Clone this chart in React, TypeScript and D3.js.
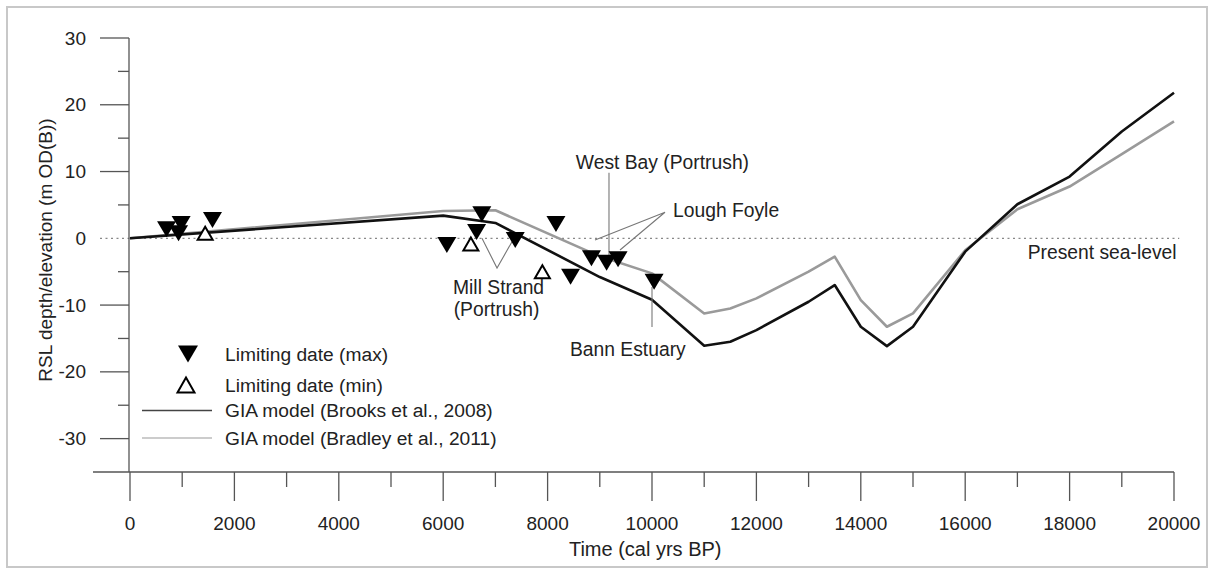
import React from "react";
import * as d3 from "d3";

// ---- Data ----
const brooksX = [0, 6000, 7000, 9000, 10000, 11000, 11500, 12000, 13000, 13500, 14000, 14500, 15000, 16000, 17000, 18000, 19000, 20000];
const brooksY = [0, 3.4, 2.3, -5.8, -9.2, -16.1, -15.5, -13.75, -9.5, -7.0, -13.25, -16.15, -13.25, -2.0, 5.1, 9.25, 16.0, 21.8];
const bradleyX = [0, 6000, 7000, 9000, 10000, 11000, 11500, 12000, 13000, 13500, 14000, 14500, 15000, 16000, 17000, 18000, 19000, 20000];
const bradleyY = [0, 4.1, 4.2, -2.7, -5.25, -11.25, -10.5, -9.0, -5.0, -2.75, -9.25, -13.25, -11.25, -1.8, 4.35, 7.75, 12.6, 17.5];

const maxX = [700, 930, 980, 1580, 6070, 6740, 6640, 7380, 8160, 8440, 8840, 9130, 9350, 10040];
const maxY = [1.35, 0.75, 2.15, 2.75, -1.0, 3.6, 0.95, -0.25, 2.15, -5.75, -3.0, -3.65, -3.15, -6.5];
const minX = [1440, 6530, 7900];
const minY = [0.75, -0.85, -5.0];

const xTicks = [0, 2000, 4000, 6000, 8000, 10000, 12000, 14000, 16000, 18000, 20000];
const xMinorTicks = [1000, 3000, 5000, 7000, 9000, 11000, 13000, 15000, 17000, 19000];
const yTicks = [30, 20, 10, 0, -10, -20, -30];
const yMinorTicks = [25, 15, 5, -5, -15, -25];

const legendLabels = [
  "Limiting date (max)",
  "Limiting date (min)",
  "GIA model (Brooks et al., 2008)",
  "GIA model (Bradley et al., 2011)",
];

const W = 1213;
const H = 570;
const FONT = "'Liberation Sans', Arial, Helvetica, sans-serif";

const x = d3.scaleLinear().domain([0, 20000]).range([130, 1174]);
const y = d3.scaleLinear().domain([-35, 30]).range([472, 38]);

const downTri = (cx: number, cy: number, w = 19, h = 16) =>
  `M${cx - w / 2},${cy - h / 2}L${cx + w / 2},${cy - h / 2}L${cx},${cy + h / 2}Z`;
const upTri = (cx: number, cy: number, w = 15, h = 13) =>
  `M${cx - w / 2},${cy + h / 2}L${cx + w / 2},${cy + h / 2}L${cx},${cy - h / 2}Z`;

export default function App() {
  const line = d3
    .line<[number, number]>()
    .x((d) => x(d[0]))
    .y((d) => y(d[1]));
  const brooks = line(brooksX.map((v, i) => [v, brooksY[i]]) as [number, number][]) || "";
  const bradley = line(bradleyX.map((v, i) => [v, bradleyY[i]]) as [number, number][]) || "";

  const axisColor = "#555";
  const textColor = "#222";
  const annColor = "#777";
  const y0 = y(-35);

  return (
    <div style={{ position: "absolute", left: 0, top: 0 }}>
      <svg width={W} height={H} style={{ display: "block", fontFamily: FONT }}>
        <rect x={0} y={0} width={W} height={H} fill="#fff" />
        <rect x={7} y={7} width={1200} height={560} fill="none" stroke="#c8c8c8" strokeWidth={2} />

        {/* Present sea-level dotted line (also serves as the 0 tick) */}
        <line x1={100} x2={x(20100)} y1={y(0)} y2={y(0)} stroke="#888" strokeWidth={1.3} strokeDasharray="2,3.5" />

        {/* Y axis */}
        <line x1={129} x2={129} y1={y(30)} y2={y0} stroke={axisColor} strokeWidth={1.3} />
        {yTicks.map((t) => (
          <g key={"yt" + t}>
            {t !== 0 && <line x1={100} x2={129} y1={y(t)} y2={y(t)} stroke={axisColor} strokeWidth={1.3} />}
            <text x={86} y={y(t)} textAnchor="end" dominantBaseline="central" fontSize={19} fill={textColor}>
              {t}
            </text>
          </g>
        ))}
        {yMinorTicks.map((t) => (
          <line key={"ym" + t} x1={118} x2={129} y1={y(t)} y2={y(t)} stroke={axisColor} strokeWidth={1.3} />
        ))}
        <text transform={`translate(52,${y(-1.75)}) rotate(-90)`} textAnchor="middle" fontSize={19} fill={textColor}>
          RSL depth/elevation (m OD(B))
        </text>

        {/* X axis */}
        <line x1={93} x2={x(20000)} y1={y0} y2={y0} stroke={axisColor} strokeWidth={1.3} />
        {xTicks.map((t) => (
          <g key={"xt" + t}>
            <line x1={x(t)} x2={x(t)} y1={y0} y2={y0 + 29} stroke={axisColor} strokeWidth={1.3} />
            <text x={x(t)} y={530} textAnchor="middle" fontSize={19} fill={textColor}>
              {t}
            </text>
          </g>
        ))}
        {xMinorTicks.map((t) => (
          <line key={"xm" + t} x1={x(t)} x2={x(t)} y1={y0} y2={y0 + 15} stroke={axisColor} strokeWidth={1.3} />
        ))}
        <text x={x(9870)} y={556} textAnchor="middle" fontSize={20} fill={textColor}>
          Time (cal yrs BP)
        </text>

        {/* Model lines */}
        <path d={bradley} fill="none" stroke="#9a9a9a" strokeWidth={2.6} strokeLinejoin="round" />
        <path d={brooks} fill="none" stroke="#111" strokeWidth={2.6} strokeLinejoin="round" />

        {/* Annotation leader lines */}
        <g stroke={annColor} strokeWidth={1.1} fill="none">
          <line x1={x(9176)} x2={x(9176)} y1={y(9.8)} y2={y(-3.3)} />
          <polyline points={`${x(8908)},${y(-0.25)} ${x(10249)},${y(3.9)} ${x(9387)},${y(-1.75)}`} />
          <polyline points={`${x(6743)},${y(0)} ${x(7031)},${y(-4.45)} ${x(7337)},${y(-0.25)}`} />
          <line x1={x(10000)} x2={x(10000)} y1={y(-7.3)} y2={y(-13.3)} />
        </g>

        {/* Markers */}
        {maxX.map((v, i) => (
          <path key={"mx" + i} d={downTri(x(v), y(maxY[i]))} fill="#000" />
        ))}
        {minX.map((v, i) => (
          <path key={"mn" + i} d={upTri(x(v), y(minY[i]))} fill="#fff" stroke="#000" strokeWidth={2} />
        ))}

        {/* Annotation texts */}
        <g fontSize={19.3} fill={textColor}>
          <text x={x(10200)} y={y(11.4)} textAnchor="middle" dominantBaseline="central">
            West Bay (Portrush)
          </text>
          <text x={x(10402)} y={y(4.1)} dominantBaseline="central">
            Lough Foyle
          </text>
          <text x={x(6188)} y={y(-7.3)} dominantBaseline="central">
            Mill Strand
          </text>
          <text x={x(6200)} y={y(-10.7)} dominantBaseline="central">
            (Portrush)
          </text>
          <text x={x(8429)} y={y(-16.7)} dominantBaseline="central">
            Bann Estuary
          </text>
          <text x={x(20050)} y={y(-2.1)} textAnchor="end" dominantBaseline="central">
            Present sea-level
          </text>
        </g>

        {/* Legend */}
        <g fontSize={19.2} fill={textColor}>
          <path d={downTri(188, 354, 20, 17)} fill="#000" />
          <path d={upTri(186, 385, 17, 15)} fill="#fff" stroke="#000" strokeWidth={2} />
          <line x1={142} x2={212} y1={410.5} y2={410.5} stroke="#444" strokeWidth={1.3} />
          <line x1={142} x2={212} y1={438} y2={438} stroke="#999" strokeWidth={1.1} />
          {legendLabels.map((l, i) => (
            <text key={l} x={225} y={[354, 385, 410.5, 438][i]} dominantBaseline="central">
              {l}
            </text>
          ))}
        </g>
      </svg>
    </div>
  );
}
